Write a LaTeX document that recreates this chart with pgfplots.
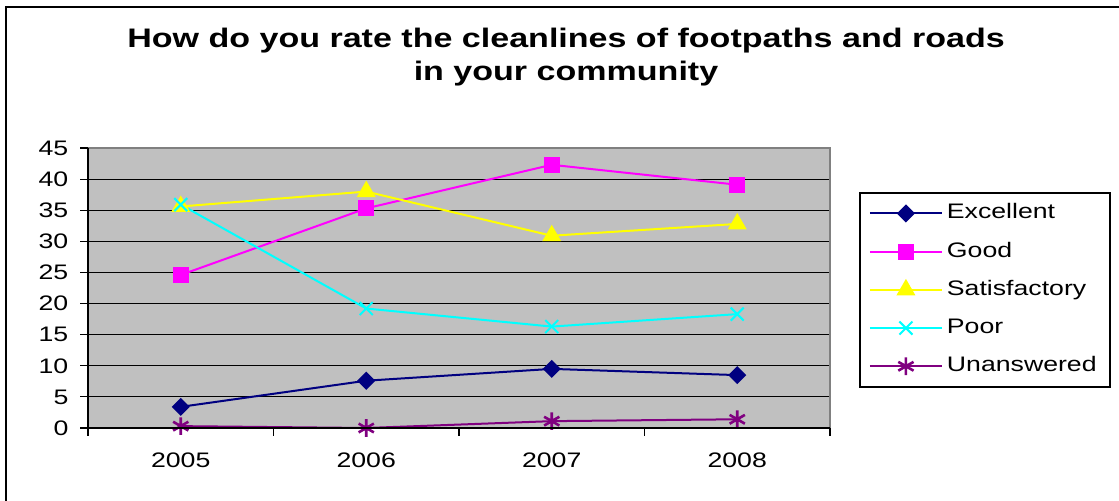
\documentclass[border=0pt]{standalone}
\usepackage{pgfplots}
\pgfplotsset{compat=1.18}
\usepackage{fontspec}
\setmainfont{Liberation Sans}[FakeStretch=1.27]

\definecolor{cExc}{HTML}{000080}
\definecolor{cGood}{HTML}{FF00FF}
\definecolor{cSat}{HTML}{FFFF00}
\definecolor{cPoor}{HTML}{00FFFF}
\definecolor{cUna}{HTML}{800080}
\definecolor{plotbg}{HTML}{C0C0C0}

\begin{document}
\begin{tikzpicture}
\useasboundingbox (0,0) rectangle (559.5pt,-250.5pt);
% outer chart frame (left and top edges)
\draw[line width=1pt] (3pt,-250.5pt) -- (3pt,-3.5pt) -- (559.5pt,-3.5pt);
% title
\node[font=\fontsize{13.4}{16.5}\selectfont\bfseries, align=center] at (283pt,-28.5pt)
  {How do you rate the cleanlines of footpaths and roads\\in your community};

\begin{axis}[
  at={(44pt,-214pt)}, anchor=south west,
  scale only axis, width=371pt, height=140pt,
  xmin=-0.5, xmax=3.5, ymin=0, ymax=45,
  xtick={0,1,2,3}, xticklabels={2005,2006,2007,2008},
  minor xtick={-0.5,0.5,1.5,2.5,3.5},
  ytick={0,5,...,45},
  tick align=outside, tick pos=left,
  major tick length=4pt, minor tick length=4pt,
  major x tick style={draw=none},
  tick style={black, line width=0.6pt},
  ymajorgrids, major grid style={black, line width=0.5pt},
  axis background/.style={fill=plotbg},
  axis line style={draw=none},
  font=\fontsize{10.5}{12}\selectfont,
  /pgf/number format/assume math mode=true,
  xticklabel style={yshift=-4.5pt},
  yticklabel style={xshift=-2pt},
  line width=1pt,
  legend style={at={(1.039,0.843)}, anchor=north west,
    draw=black, inner xsep=4.5pt, inner ysep=3pt,
    row sep=4.6pt,
    nodes={inner sep=2pt, text height=8pt, text depth=2.5pt},
    font=\fontsize{10.5}{12}\selectfont},
  legend cell align=left,
  legend image code/.code={
    \draw[line width=1pt, mark repeat=2, mark phase=2] plot coordinates {(0pt,0pt) (18pt,0pt) (36pt,0pt)};},
  after end axis/.code={
    \draw[color=gray, line width=1pt] (rel axis cs:0,1) -- (rel axis cs:1,1) -- (rel axis cs:1,0);
    \draw[black, line width=1pt] (rel axis cs:0,1) -- (rel axis cs:0,0) -- (rel axis cs:1,0);
  },
]
\addplot[color=cExc, mark=square*, mark options={rotate=45}, mark size=2.7pt]
  coordinates {(0,3.4) (1,7.6) (2,9.5) (3,8.5)};
\addlegendentry{Excellent}
\addplot[color=cGood, mark=square*, mark size=3.5pt]
  coordinates {(0,24.6) (1,35.3) (2,42.3) (3,39.1)};
\addlegendentry{Good}
\addplot[color=cSat, mark=triangle*, mark size=4.5pt]
  coordinates {(0,35.6) (1,38.0) (2,30.9) (3,32.8)};
\addlegendentry{Satisfactory}
\addplot[color=cPoor, mark=x, mark size=4.6pt]
  coordinates {(0,35.9) (1,19.2) (2,16.3) (3,18.3)};
\addlegendentry{Poor}
\addplot[color=cUna, mark=asterisk, mark size=4.4pt, mark options={line width=1.3pt}]
  coordinates {(0,0.3) (1,0.0) (2,1.1) (3,1.4)};
\addlegendentry{Unanswered}
\end{axis}
\end{tikzpicture}
\end{document}
